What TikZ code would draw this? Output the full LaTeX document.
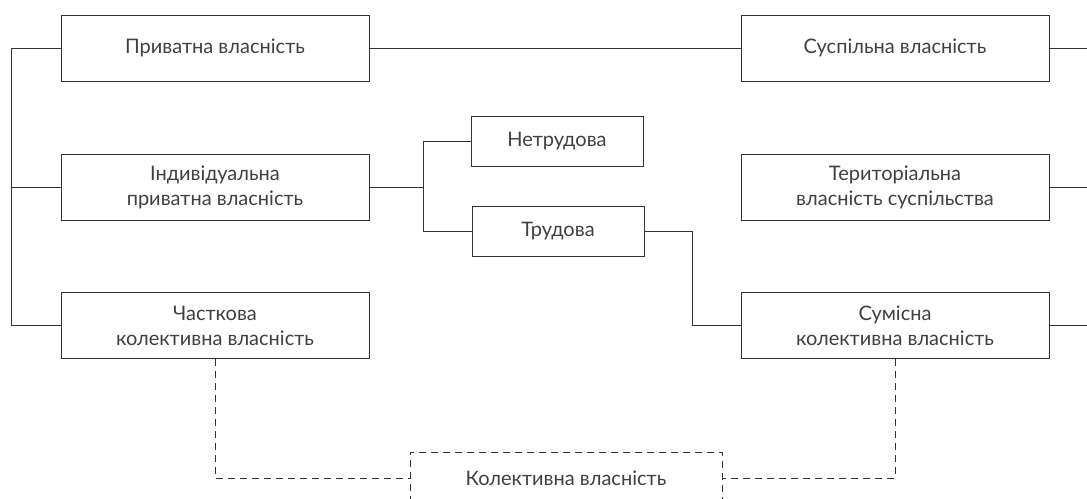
\documentclass[tikz,border=0pt]{standalone}
\usepackage{fontspec}
\setmainfont{Lato}
\usetikzlibrary{positioning}

\begin{document}
\begin{tikzpicture}[x=1pt, y=-1pt,
    line width=1pt, draw=black!80,
    box/.style={draw=black!80, line width=1pt, text=black!75, align=center,
        inner sep=0pt, minimum width=308pt, minimum height=66pt,
        font=\fontsize{20}{25}\selectfont},
    smallbox/.style={box, minimum width=172pt, minimum height=50pt},
    link/.style={black!80, line width=1pt},
    dlink/.style={link, dash pattern=on 7pt off 5pt}]
    \clip (0,0) rectangle (1087,498);
    \fill[white] (0,0) rectangle (1087,498);
    \node[box] (priv) at (215,48) {Приватна власність};
    \node[box] (indiv) at (215,187.5) {Індивідуальна\\приватна власність};
    \node[box] (chast) at (215,325.5) {Часткова\\колективна власність};
    \node[box] (susp) at (895,48) {Суспільна власність};
    \node[box] (terr) at (895,187.5) {Територіальна\\власність суспільства};
    \node[box] (sumis) at (895,325.5) {Сумісна\\колективна власність};
    \node[smallbox] (netr) at (557,141) {Нетрудова};
    \node[smallbox] (trud) at (558,231) {Трудова};
    \node[box, dash pattern=on 7pt off 5pt, minimum width=312pt, minimum height=52pt] (kolekt) at (566,478) {Колективна власність};
    \draw[link] (priv.west) -- ++(-49,0) |- (chast.west);
    \draw[link] (indiv.west) -- ++(-49,0);
    \draw[link] (priv) -- (susp);
    \draw[link] (susp.east) -- ++(60,0);
    \draw[link] (terr.east) -- ++(60,0);
    \draw[link] (sumis.east) -- ++(60,0);
    \draw[link] (indiv.east) -- ++(54,0) |- (netr.west);
    \draw[link] (indiv.east) ++(54,0) |- (trud.west);
    \draw[link] (trud.east) -- ++(48,0) |- (sumis.west);
    \draw[dlink] (chast.south) |- (kolekt.west);
    \draw[dlink] (sumis.south) |- (kolekt.east);
\end{tikzpicture}
\end{document}
